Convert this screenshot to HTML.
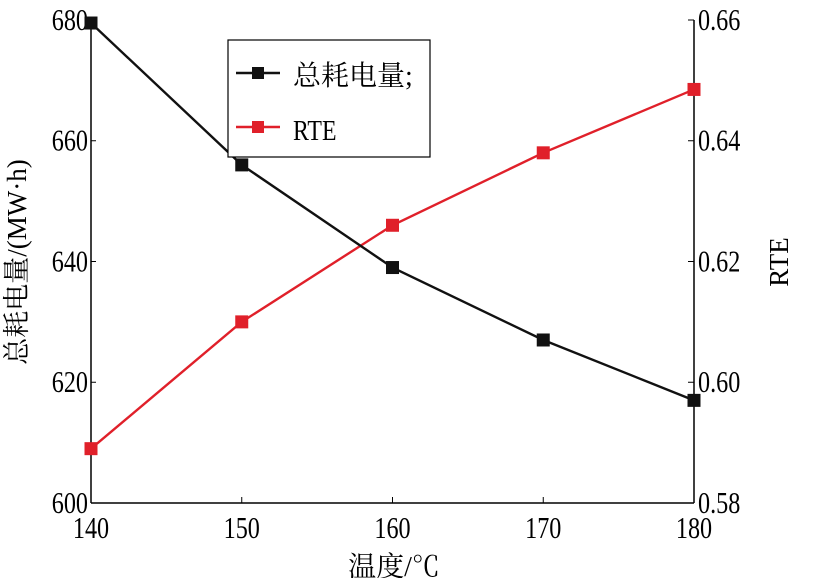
<!DOCTYPE html>
<html><head><meta charset="utf-8">
<style>
html,body{margin:0;padding:0;background:#fff;}
svg{display:block;font-family:"Liberation Serif","Noto Serif CJK SC",serif;}
</style></head>
<body>
<svg id="chart" width="817" height="578" viewBox="0 0 817 578">
<g id="axes"></g>
<g id="series"></g>
</svg>
<script>
const categories = [140, 150, 160, 170, 180];
const energyValues = [679.5, 656, 639, 627, 617];
const rteValues = [0.589, 0.610, 0.626, 0.638, 0.6485];
const xTicks = [140, 150, 160, 170, 180];
const leftTicks = [600, 620, 640, 660, 680];
const rightTicks = ["0.58", "0.60", "0.62", "0.64", "0.66"];

const X0 = 91, X1 = 694, Y0 = 503, Y1 = 20;
const xS = v => X0 + (v - 140) / 40 * (X1 - X0);
const yL = v => Y0 - (v - 600) / 80 * (Y0 - Y1);
const yR = v => Y0 - (v - 0.58) / 0.08 * (Y0 - Y1);
const NS = "http://www.w3.org/2000/svg";
const axes = document.getElementById('axes');
const series = document.getElementById('series');
function mk(tag, attrs, parent, text) {
  const e = document.createElementNS(NS, tag);
  for (const k in attrs) e.setAttribute(k, attrs[k]);
  if (text !== undefined) e.textContent = text;
  parent.appendChild(e);
  return e;
}
let e;
e = mk('line', {x1: X0, y1: Y1, x2: X0, y2: Y0, stroke: '#000', 'stroke-width': 1.5}, axes);


e = mk('line', {x1: X1, y1: Y1, x2: X1, y2: Y0, stroke: '#000', 'stroke-width': 1.5}, axes);


e = mk('line', {x1: X0, y1: Y0, x2: X1, y2: Y0, stroke: '#000', 'stroke-width': 1.5}, axes);



xTicks.forEach(v => {
  e = mk('line', {x1: xS(v), y1: Y0, x2: xS(v), y2: Y0 - 6, stroke: '#000', 'stroke-width': 1}, axes);
  
  
  e = mk('text', {x: xS(v), y: Y0 + 35, 'font-size': 31, 'text-anchor': 'middle', transform: `translate(${xS(v)},0) scale(0.78,1) translate(${-xS(v)},0)`}, axes, String(v));
  
  
});
leftTicks.forEach(v => {
  e = mk('line', {x1: X0, y1: yL(v), x2: X0 + 5, y2: yL(v), stroke: '#000', 'stroke-width': 1}, axes);
  
  
  e = mk('text', {x: 88, y: yL(v) + 10, 'font-size': 31, 'text-anchor': 'end', transform: `translate(88,0) scale(0.78,1) translate(-88,0)`}, axes, String(v));
  
  
});
rightTicks.forEach(t => {
  const y = yR(parseFloat(t));
  e = mk('line', {x1: X1, y1: y, x2: X1 - 6, y2: y, stroke: '#000', 'stroke-width': 1}, axes);
  
  
  e = mk('text', {x: 698, y: y + 10, 'font-size': 31, 'text-anchor': 'start', transform: `translate(698,0) scale(0.78,1) translate(-698,0)`}, axes, t);
  
  
});
e = mk('text', {x: 394, y: 576, 'font-size': 28, 'text-anchor': 'middle'}, axes, '温度/℃');


e = mk('text', {x: 0, y: 0, 'font-size': 27, 'text-anchor': 'middle', transform: 'translate(26,262) rotate(-90)'}, axes, '总耗电量/(MW·h)');


e = mk('text', {x: 0, y: 0, 'font-size': 27, 'text-anchor': 'middle', transform: 'translate(788,262) rotate(-90)'}, axes, 'RTE');



function drawSeries(vals, yf, color, name) {
  const pts = categories.map((c, i) => xS(c) + ',' + yf(vals[i])).join(' ');
  e = mk('polyline', {points: pts, fill: 'none', stroke: color, 'stroke-width': 2.4}, series);
  
  
  categories.forEach((c, i) => {
    e = mk('rect', {x: xS(c) - 6.5, y: yf(vals[i]) - 6.5, width: 13, height: 13, fill: color}, series);
    
    
  });
}
drawSeries(rteValues, yR, '#e0202a', 'rte');
drawSeries(energyValues, yL, '#111', 'energy');

const lg = mk('g', {}, series);


e = mk('rect', {x: 228, y: 40, width: 202, height: 117, fill: '#fff', stroke: '#000', 'stroke-width': 1.2}, lg);


e = mk('line', {x1: 236, y1: 73, x2: 280, y2: 73, stroke: '#111', 'stroke-width': 2.4}, lg);


e = mk('rect', {x: 252, y: 67, width: 12, height: 12, fill: '#111'}, lg);


e = mk('text', {x: 293, y: 85, 'font-size': 28}, lg, '总耗电量;');


e = mk('line', {x1: 236, y1: 127, x2: 280, y2: 127, stroke: '#e0202a', 'stroke-width': 2.4}, lg);


e = mk('rect', {x: 252, y: 121, width: 12, height: 12, fill: '#e0202a'}, lg);


e = mk('text', {x: 293, y: 140, 'font-size': 28, transform: 'translate(293,0) scale(0.85,1) translate(-293,0)'}, lg, 'RTE');


</script>
</body></html>
